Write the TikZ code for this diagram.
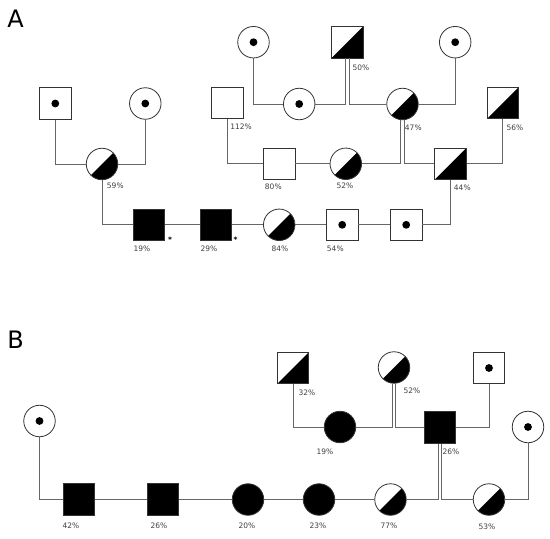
\documentclass[tikz,border=0pt]{standalone}
\usepackage{fontspec}
\setmainfont{DejaVu Sans}
\usepackage{xcolor}

\begin{document}
\begin{tikzpicture}[
        x=1pt, y=-1pt,
        male/.style={rectangle, draw=black!80, line width=0.8pt, minimum size=31.5pt, inner sep=0pt},
        female/.style={circle, draw=black!80, line width=0.8pt, minimum size=31.5pt, inner sep=0pt},
        aff/.style={fill=black},
        carrier/.style={path picture={\fill[black] (path picture bounding box.center) circle (3.9pt);}},
        partial/.style={path picture={\fill[black] (path picture bounding box.south west) -- (path picture bounding box.south east) -- (path picture bounding box.north east) -- cycle;}},
        link/.style={draw=black!60, line width=1pt},
        pct/.style={font=\fontsize{7.5}{9}\selectfont, text=black!75, inner sep=0pt},
        starmark/.style={font=\fontsize{7.5}{9}\selectfont\bfseries, text=black, inner sep=0pt},
        panel/.style={font=\fontsize{24}{28}\selectfont, inner sep=0pt},
    ]
        \useasboundingbox (0,0) rectangle (550,539);

        % Panel A
        \node[panel] (lblA) at (15.5,19) {A};

        \node[female, carrier] (aI1) at (253.5,42.2) {};
        \node[male, partial] (aI2) at (347.5,42.2) {};
        \node[female, carrier] (aI3) at (455.2,42.2) {};

        \node[male, carrier] (aII1) at (55.3,103.5) {};
        \node[female, carrier] (aII2) at (145.3,103.5) {};
        \node[male] (aII3) at (227.5,103) {};
        \node[female, carrier] (aII4) at (299.2,104) {};
        \node[female, partial] (aII5) at (402.5,104) {};
        \node[male, partial] (aII6) at (502.8,103) {};

        \node[female, partial] (aIII1) at (102,164) {};
        \node[male] (aIII2) at (279.2,163.8) {};
        \node[female, partial] (aIII3) at (345.8,163.8) {};
        \node[male, partial] (aIII4) at (450.5,163.8) {};

        \node[male, aff] (aIV1) at (148.7,224.8) {};
        \node[male, aff] (aIV2) at (215.8,224.8) {};
        \node[female, partial] (aIV3) at (279.2,224.8) {};
        \node[male, carrier] (aIV4) at (342.2,224.8) {};
        \node[male, carrier] (aIV5) at (406.2,224.8) {};

        % Percentages A
        \node[pct] (aI2p) at (361,67.3) {50\%};
        \node[pct] (aII3p) at (241,126.7) {112\%};
        \node[pct] (aII5p) at (413.3,127.3) {47\%};
        \node[pct] (aII6p) at (515,127.3) {56\%};
        \node[pct] (aIII1p) at (115.3,186) {59\%};
        \node[pct] (aIII2p) at (273.3,186.7) {80\%};
        \node[pct] (aIII3p) at (345,186) {52\%};
        \node[pct] (aIII4p) at (462.3,187.3) {44\%};
        \node[pct] (aIV1p) at (142,248.3) {19\%};
        \node[pct] (aIV2p) at (209,248.3) {29\%};
        \node[pct] (aIV3p) at (280,248.3) {84\%};
        \node[pct] (aIV4p) at (335.3,248.3) {54\%};
        \node[starmark] (aIV1s) at (170,239.5) {*};
        \node[starmark] (aIV2s) at (235.7,239.5) {*};

        % Lines A
        \draw[link] (aII1.south) |- (aIII1.west);
        \draw[link] (aIII1.east) -| (aII2.south);
        \draw[link] (aIII1.south) |- (aIV1.west);
        \draw[link] (aIV1) -- (aIV2) -- (aIV3) -- (aIV4) -- (aIV5);
        \draw[link] (aIII4.south) |- (aIV5.east);
        \draw[link] (aI1.south) |- (aII4.west);
        \draw[link] ([xshift=-1.7pt]aI2.south) |- (aII4.east);
        \draw[link] ([xshift=1.7pt]aI2.south) |- (aII5.west);
        \draw[link] (aII5.east) -| (aI3.south);
        \draw[link] (aII3.south) |- (aIII2.west);
        \draw[link] (aIII2) -- (aIII3);
        \draw[link] ([xshift=-1.7pt]aII5.south) |- (aIII3.east);
        \draw[link] ([xshift=1.7pt]aII5.south) |- (aIII4.west);
        \draw[link] (aIII4.east) -| (aII6.south);

        % Panel B
        \node[panel] (lblB) at (15.5,340) {B};

        \node[male, partial] (bI1) at (293,368) {};
        \node[female, partial] (bI2) at (394,367.5) {};
        \node[male, carrier] (bI3) at (489,368) {};

        \node[female, carrier] (bII1) at (39.5,421) {};
        \node[female, aff] (bII2) at (340,427) {};
        \node[male, aff] (bII3) at (440,427.5) {};
        \node[female, carrier] (bII4) at (528,427) {};

        \node[male, aff] (bIII1) at (79,499.5) {};
        \node[male, aff] (bIII2) at (163,499.5) {};
        \node[female, aff] (bIII3) at (248,499.5) {};
        \node[female, aff] (bIII4) at (319,499.5) {};
        \node[female, partial] (bIII5) at (390.5,499.5) {};
        \node[female, partial] (bIII6) at (489,499.5) {};

        % Percentages B
        \node[pct] (bI1p) at (307,393) {32\%};
        \node[pct] (bI2p) at (412,391) {52\%};
        \node[pct] (bII2p) at (325,452) {19\%};
        \node[pct] (bII3p) at (451,452) {26\%};
        \node[pct] (bIII1p) at (71,526) {42\%};
        \node[pct] (bIII2p) at (159,525.5) {26\%};
        \node[pct] (bIII3p) at (247,525.5) {20\%};
        \node[pct] (bIII4p) at (318,525.5) {23\%};
        \node[pct] (bIII5p) at (389,525.5) {77\%};
        \node[pct] (bIII6p) at (487,527) {53\%};

        % Lines B
        \draw[link] (bI1.south) |- (bII2.west);
        \draw[link] ([xshift=-1.7pt]bI2.south) |- (bII2.east);
        \draw[link] ([xshift=1.7pt]bI2.south) |- (bII3.west);
        \draw[link] (bII3.east) -| (bI3.south);
        \draw[link] (bII1.south) |- (bIII1.west);
        \draw[link] (bIII1) -- (bIII2) -- (bIII3) -- (bIII4) -- (bIII5);
        \draw[link] ([xshift=-1.7pt]bII3.south) |- (bIII5.east);
        \draw[link] ([xshift=1.7pt]bII3.south) |- (bIII6.west);
        \draw[link] (bIII6.east) -| (bII4.south);
    \end{tikzpicture}
\end{document}
